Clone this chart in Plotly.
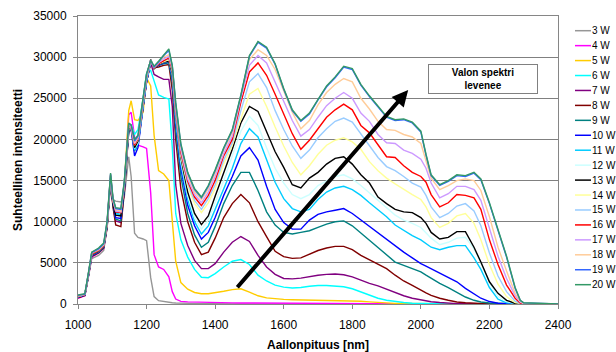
import plotly.graph_objects as go

wavelength = [1000, 1020, 1030, 1040, 1060, 1075, 1085, 1095, 1102, 1110, 1125, 1135, 1148, 1155, 1165,
              1175, 1190, 1200, 1212, 1222, 1235, 1250, 1265, 1275, 1285, 1300, 1320, 1340, 1360, 1380,
              1400, 1425, 1450, 1475, 1500, 1525, 1550, 1575, 1600, 1625, 1650, 1675, 1700, 1725, 1750,
              1775, 1800, 1825, 1850, 1875, 1900, 1925, 1950, 1975, 2000, 2015, 2030, 2055, 2080, 2105,
              2130, 2155, 2175, 2200, 2225, 2250, 2275, 2290, 2300, 2350, 2400]

labels = ['3 W', '4 W', '5 W', '6 W', '7 W', '8 W', '9 W', '10 W', '11 W', '12 W',
          '13 W', '14 W', '15 W', '16 W', '17 W', '18 W', '19 W', '20 W']

colors = ['#969696', '#FF00FF', '#FFCC00', '#00FFFF', '#800080', '#800000', '#008080', '#0000FF',
          '#00CCFF', '#CCFFFF', '#000000', '#FFFF99', '#99CCFF', '#FF0000', '#CC99FF', '#FFCC99',
          '#3366FF', '#339966']

w3 = [800, 1000, 3200, 5500, 5900, 6500, 9300, 15300, 12700, 12500, 12400, 13000, 17900, 15500, 8600,
      8100, 7900, 7700, 3200, 900, 400, 280, 200, 160, 130, 100, 80, 60, 50, 40,
      30, 20, 15, 10, 10, 5, 0, 0, 0, 0, 0, 0, 0, 0, 0,
      0, 0, 0, 0, 0, 0, 0, 0, 0, 0, 0, 0, 0, 0, 0,
      0, 0, 0, 0, 0, 0, 0, 0, 0, 0, 0]
w4 = [700, 1000, 3300, 5700, 6200, 6800, 9500, 15200, 12400, 11100, 10900, 13500, 23000, 23300, 20300,
      19300, 19100, 18900, 13500, 6000, 4500, 4200, 3300, 1500, 600, 320, 260, 230, 220, 200,
      180, 160, 140, 130, 120, 110, 100, 95, 90, 85, 80, 75, 70, 65, 60,
      55, 50, 45, 40, 35, 30, 25, 25, 20, 20, 15, 15, 10, 10, 5,
      5, 0, 0, 0, 0, 0, 0, 0, 0, 0, 0]
w5 = [850, 1100, 3400, 5900, 6300, 6900, 9600, 15300, 12500, 11400, 11300, 14500, 23500, 24700, 22400,
      22300, 23300, 27500, 26500, 20500, 16200, 15800, 15000, 10000, 5200, 2600, 1800, 1400, 1250, 1250,
      1350, 1550, 1750, 1850, 1450, 1000, 750, 620, 560, 520, 500, 480, 470, 460, 450,
      440, 400, 340, 260, 180, 120, 80, 60, 40, 30, 25, 20, 15, 10, 5,
      0, 0, 0, 0, 0, 0, 0, 0, 0, 0, 0]
w6 = [900, 1150, 3500, 6000, 6400, 7000, 9800, 15400, 12400, 11000, 10800, 14800, 21000, 21800, 20600,
      21200, 25000, 28000, 28400, 27000, 25400, 25100, 24900, 19000, 11000, 7800, 5700, 4200, 3250, 3200,
      3700, 4500, 5200, 5400, 4800, 3500, 2800, 2300, 2050, 1950, 2000, 2150, 2250, 2250, 2200,
      2100, 1850, 1450, 1050, 700, 450, 280, 180, 100, 60, 40, 30, 20, 10, 5,
      0, 0, 0, 0, 0, 0, 0, 0, 0, 0, 0]
w7 = [800, 1100, 3400, 5900, 6300, 6900, 9500, 15000, 12000, 10100, 9900, 13800, 21000, 21300, 19300,
      19800, 24000, 27000, 29300, 27900, 27600, 27300, 27300, 24000, 14500, 9800, 7100, 5300, 4300, 4300,
      4900, 6300, 7500, 8200, 7600, 5900, 4500, 3600, 3100, 3050, 3150, 3350, 3500, 3600, 3650,
      3550, 3300, 2900, 2500, 2200, 1800, 1350, 1000, 700, 480, 370, 280, 180, 90, 50,
      30, 20, 10, 0, 0, 0, 0, 0, 0, 0, 0]
w8 = [750, 1050, 3300, 5800, 6200, 6800, 9300, 14800, 11800, 9600, 9400, 13500, 21000, 21200, 19000,
      19500, 24000, 27000, 29400, 28700, 28800, 29000, 29100, 26000, 20000, 14000, 10000, 7500, 6000, 6300,
      8000, 10500, 12200, 13300, 12300, 10000, 8200, 6400, 5750, 5550, 5600, 6100, 6500, 6800, 7000,
      7000, 6600, 5900, 5400, 4900, 4300, 3500, 2800, 2250, 1650, 1350, 1050, 700, 450, 250,
      150, 80, 40, 20, 0, 0, 0, 0, 0, 0, 0]
w9 = [850, 1100, 3400, 5900, 6300, 6900, 9500, 15200, 12100, 10300, 10100, 13800, 21200, 21300, 18600,
      19300, 24000, 27000, 29500, 28700, 29000, 29200, 29300, 27000, 21000, 15500, 11000, 8400, 6900, 7500,
      9400, 12200, 14400, 16000, 16000, 13800, 11200, 9600, 8700, 8500, 8700, 8900, 9300, 9700, 10000,
      10100, 9500, 8600, 7800, 6800, 6000, 5100, 4700, 4300, 3900, 3500, 3100, 2500, 2000, 1400,
      850, 450, 250, 120, 50, 20, 0, 0, 0, 0, 0]
w10 = [850, 1100, 3400, 5900, 6300, 6900, 9600, 15300, 12300, 10500, 10400, 14000, 21300, 21200, 18000,
       19000, 24000, 27000, 29500, 28700, 29000, 29300, 29400, 27500, 22000, 16500, 12000, 9500, 7900, 8700,
       10500, 13200, 15500, 18000, 19000, 17500, 14300, 11500, 9900, 9100, 9100, 10200, 10900, 11200, 11400,
       11600, 11000, 10200, 9400, 8700, 7900, 7100, 6300, 5600, 4900, 4600, 4300, 3800, 3300, 2700,
       1900, 1200, 700, 300, 100, 30, 0, 0, 0, 0, 0]
w11 = [900, 1150, 3500, 6000, 6400, 7000, 9700, 15400, 12400, 11100, 10900, 14300, 21500, 21400, 18700,
       19500, 24200, 27200, 29500, 28700, 29100, 29400, 29500, 27800, 22500, 17000, 12700, 10000, 8500, 9500,
       11500, 14000, 16500, 19500, 21300, 20300, 17500, 14800, 12800, 11600, 11200, 11500, 12700, 13600, 14100,
       14300, 13900, 13200, 12300, 11500, 10600, 9600, 8900, 8300, 7800, 7300, 6900, 6600, 6900, 7100,
       7100, 5600, 4200, 2000, 600, 150, 40, 0, 0, 0, 0]
w12 = [900, 1150, 3500, 6000, 6400, 7000, 9700, 15400, 12400, 11300, 11000, 14300, 21500, 21300, 18900,
       19600, 24300, 27300, 29500, 28700, 29100, 29400, 29500, 27900, 22800, 17400, 13200, 10500, 9100, 10200,
       12300, 15000, 18000, 21000, 22800, 21700, 19000, 16500, 14700, 13300, 12800, 13300, 14400, 15000, 15500,
       15700, 15200, 14400, 13500, 12700, 11700, 10800, 10200, 9800, 9300, 8700, 8000, 7200, 7500, 8000,
       8100, 6700, 5000, 2600, 900, 280, 60, 0, 0, 0, 0]
w13 = [900, 1150, 3500, 6000, 6400, 7000, 9600, 15300, 12200, 10800, 10700, 14200, 21400, 21300, 19000,
       19800, 24500, 27500, 29700, 28600, 29100, 29400, 29500, 28000, 23000, 17800, 13600, 11000, 9650, 10700,
       13100, 16000, 18800, 22000, 24000, 23400, 21000, 18500, 16600, 14500, 14100, 15300, 16000, 17000, 17700,
       17900, 17000, 15700, 14700, 13000, 12200, 11500, 11200, 11100, 10500, 9800, 8700, 7900, 8100, 8800,
       8800, 6900, 5100, 2700, 1300, 450, 60, 20, 0, 0, 0]
w14 = [900, 1150, 3500, 6100, 6500, 7100, 9800, 15500, 12500, 11400, 11200, 14500, 21600, 21400, 19300,
       20000, 24600, 27600, 29600, 28700, 29200, 29500, 29700, 28300, 23300, 18000, 14300, 12200, 11100, 12300,
       14000, 17000, 19300, 22500, 25500, 26200, 24000, 21500, 19200, 17200, 15700, 16800, 18200, 19300, 19900,
       20200, 19700, 18800, 17300, 16200, 15300, 14600, 13900, 13300, 12700, 11800, 10500, 9300, 9800, 10700,
       11000, 9800, 7800, 4800, 2400, 900, 180, 40, 0, 0, 0]
w15 = [950, 1150, 3500, 6100, 6500, 7100, 9800, 15500, 12500, 11300, 11200, 14500, 21700, 21400, 19400,
       20100, 24700, 27600, 29600, 28700, 29200, 29600, 29800, 28400, 23500, 18200, 14600, 12600, 11500, 12800,
       14500, 17500, 19600, 23500, 27000, 28000, 26300, 23500, 21200, 19200, 17700, 18700, 20200, 21300, 22200,
       22600, 22100, 20700, 19200, 17800, 16700, 16200, 15500, 14700, 14200, 13200, 11800, 10500, 11000, 11900,
       12200, 11300, 9500, 6200, 3400, 1500, 350, 70, 0, 0, 0]
w16 = [950, 1150, 3500, 6100, 6500, 7100, 9800, 15600, 12600, 11200, 11100, 14600, 21700, 21500, 19300,
       20100, 24700, 27700, 29600, 28700, 29200, 29600, 29900, 28500, 23700, 18400, 14900, 13000, 11950, 13200,
       15000, 18000, 20000, 24500, 28200, 29300, 27800, 25500, 23200, 20700, 18800, 19900, 21300, 22700, 23600,
       24300, 23600, 21700, 20800, 19300, 17900, 17800, 16800, 16000, 15500, 14800, 13300, 11800, 12300, 13300,
       13200, 12900, 11500, 7800, 4800, 2300, 700, 120, 0, 0, 0]
w17 = [1000, 1200, 3600, 6200, 6600, 7200, 9900, 15700, 12700, 11300, 11200, 14700, 21800, 21500, 19500,
       20200, 24800, 27800, 29600, 28800, 29300, 29800, 30100, 28700, 23900, 18700, 15200, 13300, 12300, 13600,
       15500, 18300, 20400, 25000, 29000, 30200, 29300, 27000, 24500, 22300, 20400, 21200, 22700, 24100, 25000,
       25700, 25000, 23200, 22200, 20600, 19600, 19500, 18700, 18300, 17600, 16500, 14700, 12900, 13400, 14300,
       14300, 13900, 12600, 9300, 5800, 3100, 1000, 220, 50, 0, 0]
w18 = [1000, 1200, 3600, 6200, 6600, 7200, 9900, 15700, 12700, 11500, 11300, 14700, 21800, 21600, 19600,
       20300, 24900, 27800, 29600, 28800, 29400, 30000, 30300, 28800, 24100, 19000, 15600, 13600, 12700, 14000,
       15900, 18700, 20800, 25200, 29700, 30900, 30200, 28500, 25800, 23300, 21300, 22300, 24200, 25700, 26700,
       27400, 27000, 25000, 23700, 22200, 21200, 21100, 20600, 20300, 19500, 17500, 15300, 13900, 14400, 15000,
       15200, 15000, 13800, 10600, 6900, 4000, 1300, 300, 80, 0, 0]
w19 = [1050, 1200, 3600, 6250, 6700, 7300, 10000, 15800, 12800, 11600, 11500, 14800, 21900, 21700, 19800,
       20400, 25000, 27900, 29600, 28800, 29400, 30200, 30800, 28900, 24300, 19300, 15900, 13900, 12900, 14300,
       16200, 18900, 21100, 25300, 30100, 31800, 31100, 29100, 26100, 23500, 22200, 23100, 24800, 26400, 27500,
       28800, 28500, 26600, 25200, 23900, 22700, 22300, 22400, 22000, 20900, 18100, 15600, 14400, 14900, 15600,
       15500, 15900, 15100, 12200, 8900, 5700, 1900, 420, 140, 25, 0]
w20 = [1100, 1250, 3700, 6300, 6800, 7400, 10100, 15900, 12900, 11700, 11600, 14900, 22000, 21800, 20000,
       20500, 25100, 28000, 29600, 28900, 29500, 30300, 31000, 29000, 24500, 19500, 16000, 14000, 13000, 14400,
       16300, 19000, 21200, 25400, 30200, 31900, 31200, 29200, 26200, 23600, 22300, 23200, 24900, 26500, 27600,
       28900, 28600, 26700, 25300, 24000, 22800, 22400, 22500, 22100, 21000, 18200, 15700, 14500, 15000, 15700,
       15600, 16000, 15200, 12300, 9000, 5800, 2000, 450, 150, 30, 0]

series = [w3, w4, w5, w6, w7, w8, w9, w10, w11, w12, w13, w14, w15, w16, w17, w18, w19, w20]

x_ticks = [1000, 1200, 1400, 1600, 1800, 2000, 2200, 2400]
y_ticks = [0, 5000, 10000, 15000, 20000, 25000, 30000, 35000]

FONT = "Liberation Sans, Arial, sans-serif"
W, H = 616, 352
L, R, T, B = 78, 58, 16, 48
PW, PH = W - L - R, H - T - B

fig = go.Figure()
for name, col, vals in zip(labels, colors, series):
    assert len(vals) == len(wavelength), name
    fig.add_trace(go.Scatter(x=wavelength, y=vals, mode='lines', name=name,
                             line=dict(color=col, width=1.4), showlegend=False,
                             hoverinfo='skip'))

def px_x(p):
    return (p - L) / PW

def px_y(p):
    return (T + PH - p) / PH

shapes = []
annotations = []
for i, (name, col) in enumerate(zip(labels, colors)):
    yc = 30.7 + i * 14.94
    shapes.append(dict(type='line', xref='paper', yref='paper',
                       x0=px_x(575), x1=px_x(591), y0=px_y(yc), y1=px_y(yc),
                       line=dict(color=col, width=1.5)))
    annotations.append(dict(xref='paper', yref='paper', x=px_x(591.5), y=px_y(yc),
                            xanchor='left', yanchor='middle', showarrow=False,
                            borderpad=0, borderwidth=0,
                            text=name, font=dict(family=FONT, size=10, color='#000000')))

# arrow
annotations.append(dict(x=1963, y=26000, ax=1461, ay=1860, xref='x', yref='y',
                        axref='x', ayref='y', text='', showarrow=True, arrowhead=2,
                        arrowsize=0.8, arrowwidth=4, arrowcolor='#000000', standoff=0))
# text box
annotations.append(dict(xref='paper', yref='paper', x=px_x(482.5), y=px_y(78.7),
                        xanchor='center', yanchor='middle', showarrow=False,
                        text='<b>Valon spektri</b><br><b>levenee</b>',
                        font=dict(family=FONT, size=10, color='#000000'),
                        bgcolor='#FFFFFF', bordercolor='#808080', borderwidth=1,
                        borderpad=2, width=104, height=24, align='center'))

fig.update_layout(
    template='none',
    width=W, height=H,
    margin=dict(l=L, r=R, t=T, b=B, autoexpand=False),
    paper_bgcolor='#FFFFFF', plot_bgcolor='#FFFFFF',
    font=dict(family=FONT, size=11, color='#000000'),
    shapes=shapes, annotations=annotations,
    xaxis=dict(range=[1000, 2400], tickvals=x_ticks, ticktext=[str(v) for v in x_ticks],
               automargin=False,
               showgrid=False, zeroline=False, showline=True, linecolor='#868686', linewidth=1,
               mirror=True, ticks='outside', ticklen=4, tickcolor='#868686',
               ticklabelstandoff=6,
               tickfont=dict(family=FONT, size=12, color='#000000'),
               title=dict(text='<b>Aallonpituus [nm]</b>', standoff=9,
                          font=dict(family=FONT, size=12, color='#000000'))),
    yaxis=dict(range=[0, 35000], tickvals=y_ticks, ticktext=[str(v) for v in y_ticks],
               automargin=False,
               showgrid=True, gridcolor='#808080', gridwidth=1, zeroline=False,
               showline=True, linecolor='#868686', linewidth=1, mirror=True,
               ticks='outside', ticklen=4, tickcolor='#868686',
               ticklabelstandoff=4,
               tickfont=dict(family=FONT, size=12, color='#000000'),
               title=dict(text='<b>Suhteellinen intensiteetti</b>', standoff=8,
                          font=dict(family=FONT, size=12, color='#000000'))),
)

fig.write_html("out.html")
